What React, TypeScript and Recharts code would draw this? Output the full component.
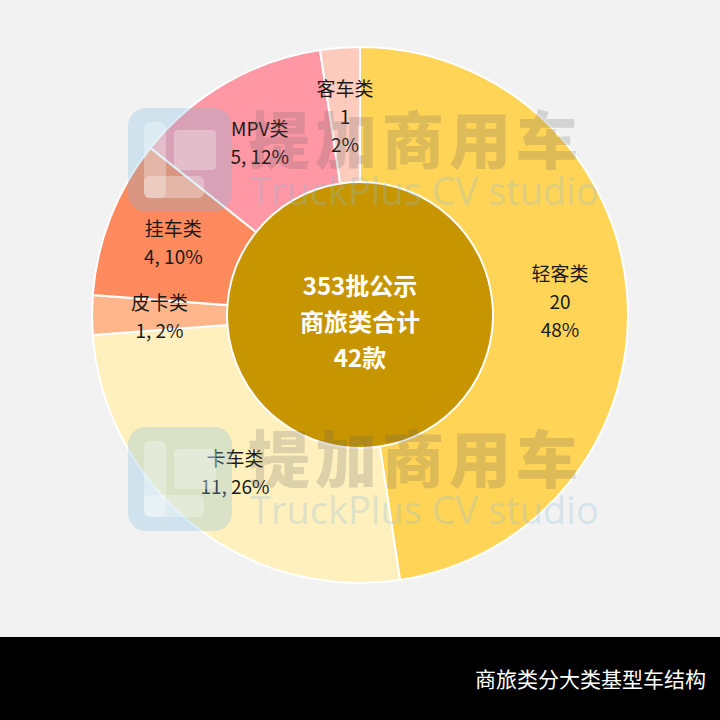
import React from 'react';
import { PieChart, Pie, Cell } from 'recharts';

const categories = ['轻客类', '卡车类', '皮卡类', '挂车类', 'MPV类', '客车类'];
const counts = [20, 11, 1, 4, 5, 1];
const sliceColors = ['#ffd457', '#fff0bd', '#ffb68a', '#ff8a5e', '#ff97a4', '#ffcbbd'];
// slices whose label is split over three lines
const stackedLabel = [true, false, false, false, false, true];
const centerLines = ['353批公示', '商旅类合计', '42款'];
const footerTitle = '商旅类分大类基型车结构';

const total = counts.reduce((s, v) => s + v, 0);
const data = categories.map((name, i) => ({
  name,
  value: counts[i],
  pct: Math.round((counts[i] / total) * 100),
  stacked: stackedLabel[i],
}));

const W = 720;
const CHART_H = 637;
const CX = 360;
const CY = 315;
const R_IN = 133;
const R_OUT = 268;
const FONT = '"Noto Sans CJK SC", "Noto Sans", sans-serif';

const RADIAN = Math.PI / 180;

const renderLabel = (props: any) => {
  const { cx, cy, midAngle, innerRadius, outerRadius, payload } = props;
  const r = (innerRadius + outerRadius) / 2;
  const x = cx + r * Math.cos(-midAngle * RADIAN);
  const y = cy + r * Math.sin(-midAngle * RADIAN);
  const p = payload.payload ?? payload;
  const lines = p.stacked
    ? [p.name, String(p.value), `${p.pct}%`]
    : [p.name, `${p.value}, ${p.pct}%`];
  const lh = 28;
  const y0 = y - ((lines.length - 1) * lh) / 2;
  return (
    <text textAnchor="middle" fontSize={19} fill="#1a1a1a" fontFamily={FONT} fontWeight={400}>
      {lines.map((l, i) => (
        <tspan key={i} x={x} y={y0 + i * lh} dominantBaseline="central">
          {l}
        </tspan>
      ))}
    </text>
  );
};

const renderCenter = (props: any) => {
  const { cx, cy } = props;
  return (
    <text textAnchor="middle" fill="#ffffff" fontFamily={FONT} fontWeight={700} fontSize={24}>
      {centerLines.map((l, i) => (
        <tspan key={i} x={cx} y={cy - 31 + i * 36} dominantBaseline="central">
          {l}
        </tspan>
      ))}
    </text>
  );
};

const Watermark: React.FC<{ top: number }> = ({ top }) => (
  <div style={{ position: 'absolute', left: 128, top, width: 480, height: 106, pointerEvents: 'none' }}>
    <div
      style={{
        position: 'absolute',
        left: 0,
        top: 0,
        width: 104,
        height: 104,
        borderRadius: 18,
        background: 'rgba(120,185,225,0.28)',
      }}
    >
      <div style={{ position: 'absolute', left: 16, top: 14, width: 22, height: 76, borderRadius: 6, background: 'rgba(255,255,255,0.3)' }} />
      <div style={{ position: 'absolute', left: 16, top: 68, width: 60, height: 22, borderRadius: 6, background: 'rgba(255,255,255,0.3)' }} />
      <div style={{ position: 'absolute', left: 46, top: 22, width: 42, height: 40, borderRadius: 4, background: 'rgba(255,255,255,0.3)' }} />
    </div>
    <div
      style={{
        position: 'absolute',
        left: 120,
        top: -16,
        fontFamily: FONT,
        fontWeight: 900,
        fontSize: 62,
        letterSpacing: 5,
        color: 'rgba(100,100,100,0.22)',
        whiteSpace: 'nowrap',
      }}
    >
      提加商用车
    </div>
    <div
      style={{
        position: 'absolute',
        left: 122,
        top: 56,
        fontFamily: '"Open Sans", sans-serif',
        fontSize: 38,
        color: 'rgba(140,190,220,0.3)',
        whiteSpace: 'nowrap',
      }}
    >
      TruckPlus CV studio
    </div>
  </div>
);

export default function App() {
  return (
    <div style={{ position: 'absolute', left: 0, top: 0, width: W, height: 720, background: '#f2f2f2', overflow: 'hidden' }}>
      <PieChart
        width={W}
        height={CHART_H}
        margin={{ top: 0, right: 0, bottom: 0, left: 0 }}
        style={{ position: 'absolute', left: 0, top: 0 }}
      >
        <Pie
          data={[{ name: 'center', value: total }]}
          dataKey="value"
          cx={CX}
          cy={CY}
          innerRadius={0}
          outerRadius={R_IN}
          fill="#c69500"
          stroke="none"
          label={renderCenter}
          labelLine={false}
          isAnimationActive={false}
        />
        <Pie
          data={data}
          dataKey="value"
          nameKey="name"
          cx={CX}
          cy={CY}
          innerRadius={R_IN}
          outerRadius={R_OUT}
          startAngle={90}
          endAngle={-270}
          stroke="#ffffff"
          strokeWidth={2}
          label={renderLabel}
          labelLine={false}
          isAnimationActive={false}
        >
          {data.map((d, i) => (
            <Cell key={d.name} fill={sliceColors[i]} />
          ))}
        </Pie>
      </PieChart>
      <Watermark top={108} />
      <Watermark top={427} />
      <div
        style={{
          position: 'absolute',
          left: 0,
          top: CHART_H,
          width: W,
          height: 720 - CHART_H,
          background: '#000000',
        }}
      >
        <div
          style={{
            position: 'absolute',
            right: 14,
            top: 28,
            color: '#ffffff',
            fontFamily: FONT,
            fontSize: 21,
            lineHeight: '26px',
          }}
        >
          {footerTitle}
        </div>
      </div>
    </div>
  );
}
